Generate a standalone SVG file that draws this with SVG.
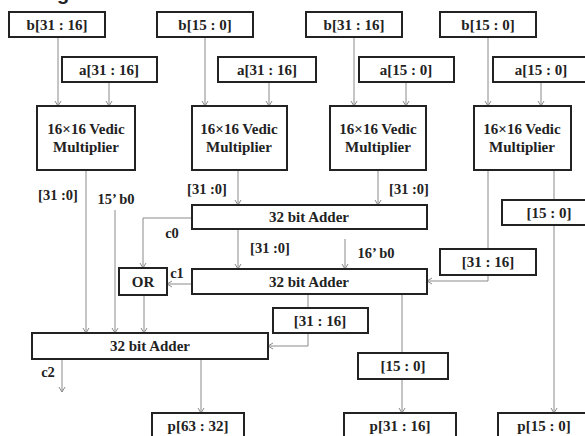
<svg xmlns="http://www.w3.org/2000/svg" width="585" height="436" viewBox="0 0 585 436">
<defs>
<marker id="arr" markerWidth="8" markerHeight="8" refX="6" refY="4" orient="auto" markerUnits="userSpaceOnUse">
<path d="M1,1 L6,4 L1,7" fill="none" stroke="#8a8a8a" stroke-width="1"/>
</marker>
<style>
.box{fill:#fff;stroke:#222;stroke-width:2}
.t{font-weight:bold;font-size:15px;fill:#222;text-anchor:middle}
.lb{font-weight:bold;font-size:14.5px;fill:#222;text-anchor:middle}
.ca{fill:none;stroke:#8a8a8a;stroke-width:1;marker-end:url(#arr)}
</style>
</defs>
<rect width="585" height="436" fill="#fff"/>
<text x="57" y="0" font-family="Liberation Sans, Arial, sans-serif" font-weight="bold" font-size="20" fill="#222">g</text>

<g id="connectors">
<line class="ca" x1="58" y1="37" x2="58" y2="106"/>
<line class="ca" x1="109" y1="82" x2="109" y2="106"/>
<line class="ca" x1="205" y1="37" x2="205" y2="106"/>
<line class="ca" x1="269" y1="82" x2="269" y2="106"/>
<line class="ca" x1="354" y1="37" x2="354" y2="106"/>
<line class="ca" x1="406" y1="82" x2="406" y2="106"/>
<line class="ca" x1="488" y1="37" x2="488" y2="106"/>
<line class="ca" x1="541" y1="82" x2="541" y2="106"/>
<line class="ca" x1="86" y1="170" x2="86" y2="333"/>
<line class="ca" x1="115" y1="210" x2="115" y2="333"/>
<line class="ca" x1="238" y1="170" x2="238" y2="205"/>
<line class="ca" x1="378" y1="170" x2="378" y2="205"/>
<polyline class="ca" points="192,218 143,218 143,268"/>
<line class="ca" x1="238" y1="229" x2="238" y2="269"/>
<line class="ca" x1="345" y1="239" x2="345" y2="269"/>
<line class="ca" x1="192" y1="284" x2="167" y2="284"/>
<polyline class="ca" points="488,170 488,281 427,281"/>
<line class="ca" x1="554" y1="170" x2="554" y2="413"/>
<line class="ca" x1="144" y1="295" x2="144" y2="333"/>
<polyline class="ca" points="308,294 308,346 268,346"/>
<line class="ca" x1="402" y1="294" x2="402" y2="413"/>
<line class="ca" x1="62" y1="359" x2="62" y2="392"/>
<line class="ca" x1="201" y1="359" x2="201" y2="413"/>
</g>

<g font-family="'Liberation Serif', 'DejaVu Serif', serif">
<g id="b1"><rect class="box" x="9" y="12" width="96" height="25"/><text class="t" x="57" y="30">b[31 : 16]</text></g>
<g id="b2"><rect class="box" x="157" y="12" width="96" height="25"/><text class="t" x="205" y="30">b[15 : 0]</text></g>
<g id="b3"><rect class="box" x="306" y="12" width="96" height="25"/><text class="t" x="354" y="30">b[31 : 16]</text></g>
<g id="b4"><rect class="box" x="440" y="12" width="96" height="25"/><text class="t" x="488" y="30">b[15 : 0]</text></g>

<g id="a1"><rect class="box" x="62" y="57" width="95" height="25"/><text class="t" x="109" y="75">a[31 : 16]</text></g>
<g id="a2"><rect class="box" x="218" y="57" width="98" height="25"/><text class="t" x="267" y="75">a[31 : 16]</text></g>
<g id="a3"><rect class="box" x="359" y="57" width="95" height="25"/><text class="t" x="406" y="75">a[15 : 0]</text></g>
<g id="a4"><rect class="box" x="493" y="57" width="96" height="25"/><text class="t" x="541" y="75">a[15 : 0]</text></g>

<g id="mult1"><rect class="box" x="37" y="106" width="98" height="64"/><text class="t" x="86" y="134">16×16 Vedic</text><text class="t" x="86" y="152">Multiplier</text></g>
<g id="mult2"><rect class="box" x="192" y="106" width="95" height="64"/><text class="t" x="239" y="134">16×16 Vedic</text><text class="t" x="239" y="152">Multiplier</text></g>
<g id="mult3"><rect class="box" x="330" y="106" width="96" height="64"/><text class="t" x="378" y="134">16×16 Vedic</text><text class="t" x="378" y="152">Multiplier</text></g>
<g id="mult4"><rect class="box" x="474" y="106" width="97" height="64"/><text class="t" x="522" y="134">16×16 Vedic</text><text class="t" x="522" y="152">Multiplier</text></g>

<g id="adder1"><rect class="box" x="192" y="205" width="235" height="24"/><text class="t" x="309" y="222">32 bit Adder</text></g>
<g id="adder2"><rect class="box" x="192" y="269" width="235" height="25"/><text class="t" x="309" y="287">32 bit Adder</text></g>
<g id="or"><rect class="box" x="119" y="268" width="48" height="27"/><text class="t" x="143" y="287">OR</text></g>
<g id="adder3"><rect class="box" x="32" y="333" width="236" height="26"/><text class="t" x="150" y="351">32 bit Adder</text></g>

<g id="s15_0r"><rect class="box" x="502" y="200" width="96" height="25"/><text class="t" x="549" y="218">[15 : 0]</text></g>
<g id="s31_16r"><rect class="box" x="440" y="249" width="96" height="26"/><text class="t" x="488" y="267">[31 : 16]</text></g>
<g id="s31_16m"><rect class="box" x="273" y="308" width="95" height="25"/><text class="t" x="320" y="326">[31 : 16]</text></g>
<g id="s15_0m"><rect class="box" x="358" y="353" width="90" height="26"/><text class="t" x="403" y="371">[15 : 0]</text></g>

<g id="p63_32"><rect class="box" x="152" y="413" width="92" height="30"/><text class="t" x="198" y="431">p[63 : 32]</text></g>
<g id="p31_16"><rect class="box" x="344" y="413" width="112" height="30"/><text class="t" x="400" y="431">p[31 : 16]</text></g>
<g id="p15_0"><rect class="box" x="498" y="413" width="94" height="30"/><text class="t" x="544" y="431">p[15 : 0]</text></g>

<g id="labels">
<text class="lb" x="58" y="200">[31 :0]</text>
<text class="lb" x="116" y="204">15’ b0</text>
<text class="lb" x="207" y="194">[31 :0]</text>
<text class="lb" x="409" y="194">[31 :0]</text>
<text class="lb" x="172" y="238">c0</text>
<text class="lb" x="270" y="253">[31 :0]</text>
<text class="lb" x="376" y="258">16’ b0</text>
<text class="lb" x="177" y="278">c1</text>
<text class="lb" x="48" y="377">c2</text>
</g>
</g>
</svg>
